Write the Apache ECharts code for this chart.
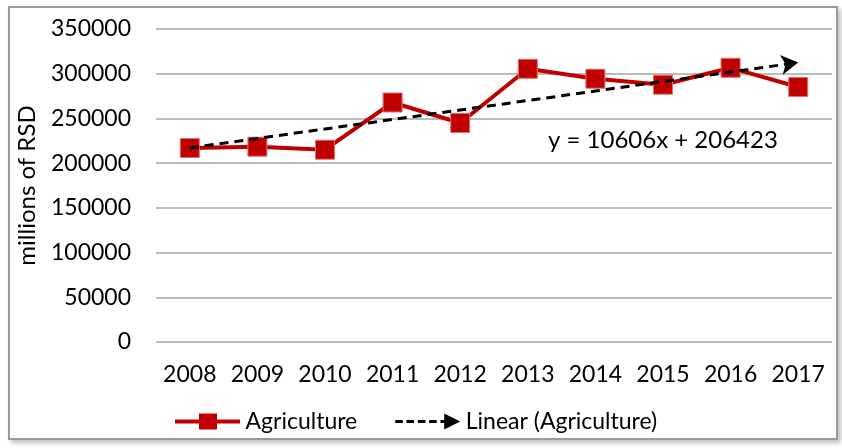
<!DOCTYPE html>
<html lang="en">
<head>
	<meta charset="UTF-8">
	<title>agriculture-trend</title>
	<script src="https://cdn.jsdelivr.net/npm/echarts@6/dist/echarts.min.js"></script>
	<style>
		body { margin: 0; background: #fff; }
		#frame {
			position: absolute; left: 8px; top: 6px; width: 826px; height: 430px;
			border: 2px solid #9a9a9a; box-shadow: 3px 3px 5px #bdbdbd;
			background: #fff;
		}
		#container { position: absolute; left: 0; top: 0; width: 842px; height: 448px; }
	</style>
</head>
<body>
	<div id="frame"></div>
	<div id="container"></div>

	<script>
		var years = ['2008', '2009', '2010', '2011', '2012', '2013', '2014', '2015', '2016', '2017'];
		var agriculture = [216900, 218400, 215000, 267800, 244900, 305500, 294400, 287700, 306600, 285100];
		// linear trend as shown on the chart (y = 10606x + 206423)
		var trend = [217029, 227635, 238241, 248847, 259453, 270059, 280665, 291271, 301877, 312483];
		var yTicks = { min: 0, max: 350000, interval: 50000 };

		var font = 'Lato, "Open Sans", sans-serif';
		var myChart = echarts.init(document.getElementById('container'));

		var trendData = trend.map(function (v, i) {
			if (i === trend.length - 1) {
				return { value: v, symbol: 'arrow', symbolSize: [15, 17], symbolRotate: -82 };
			}
			return v;
		});

		// legend icons: line with square marker, dashed line with arrow head
		var iconAgri = 'path://M0,6H24V0H42V6H65V10H42V16H24V10H0Z';
		var iconTrend = 'path://M0,7H8V10H0Z M12,7H20V10H12Z M24,7H32V10H24Z M36,7H44V10H36Z M48,7H54V10H48Z M52,0L69,8.5L52,17Z';

		var option = {
			animation: false,
			grid: { left: 156, right: 10, top: 29, bottom: 106 },
			legend: {
				left: 170,
				top: 405,
				itemWidth: 66,
				itemHeight: 16,
				itemGap: 38,
				textStyle: { fontFamily: font, fontSize: 23, color: '#000' },
				data: [
					{ name: 'Agriculture', icon: iconAgri, itemStyle: { color: '#c00000', borderWidth: 0 } },
					{ name: 'Linear (Agriculture)', icon: iconTrend, itemStyle: { color: '#000', borderWidth: 0 } }
				]
			},
			xAxis: {
				type: 'category',
				data: years,
				boundaryGap: true,
				axisLine: { show: false },
				axisTick: { show: false },
				axisLabel: { fontFamily: font, fontSize: 23, color: '#000', margin: 21, interval: 0 }
			},
			yAxis: {
				type: 'value',
				min: yTicks.min,
				max: yTicks.max,
				interval: yTicks.interval,
				name: 'millions of RSD',
				nameLocation: 'middle',
				nameGap: 117,
				nameTextStyle: { fontFamily: font, fontSize: 24, color: '#000' },
				axisLine: { show: false },
				axisTick: { show: false },
				axisLabel: {
					fontFamily: font, fontSize: 23, color: '#000', margin: 25,
					formatter: function (v) { return String(v); }
				},
				splitLine: { lineStyle: { color: '#a6a6a6', width: 1.5 } }
			},
			series: [{
				name: 'Agriculture',
				type: 'line',
				data: agriculture,
				symbol: 'rect',
				symbolSize: 19,
				lineStyle: { color: '#c00000', width: 4 },
				itemStyle: { color: '#c00000', borderColor: '#e07070', borderWidth: 1 },
				z: 2
			}, {
				name: 'Linear (Agriculture)',
				type: 'line',
				data: trendData,
				symbol: 'none',
				showSymbol: true,
				lineStyle: { color: '#000', width: 3, type: [9, 6] },
				itemStyle: { color: '#000' },
				z: 3
			}],
			graphic: [{
				type: 'text',
				left: 548,
				top: 128,
				style: {
					text: 'y = 10606x + 206423',
					font: '24px ' + font,
					fill: '#000'
				}
			}]
		};

		myChart.setOption(option);
	</script>
</body>
</html>
